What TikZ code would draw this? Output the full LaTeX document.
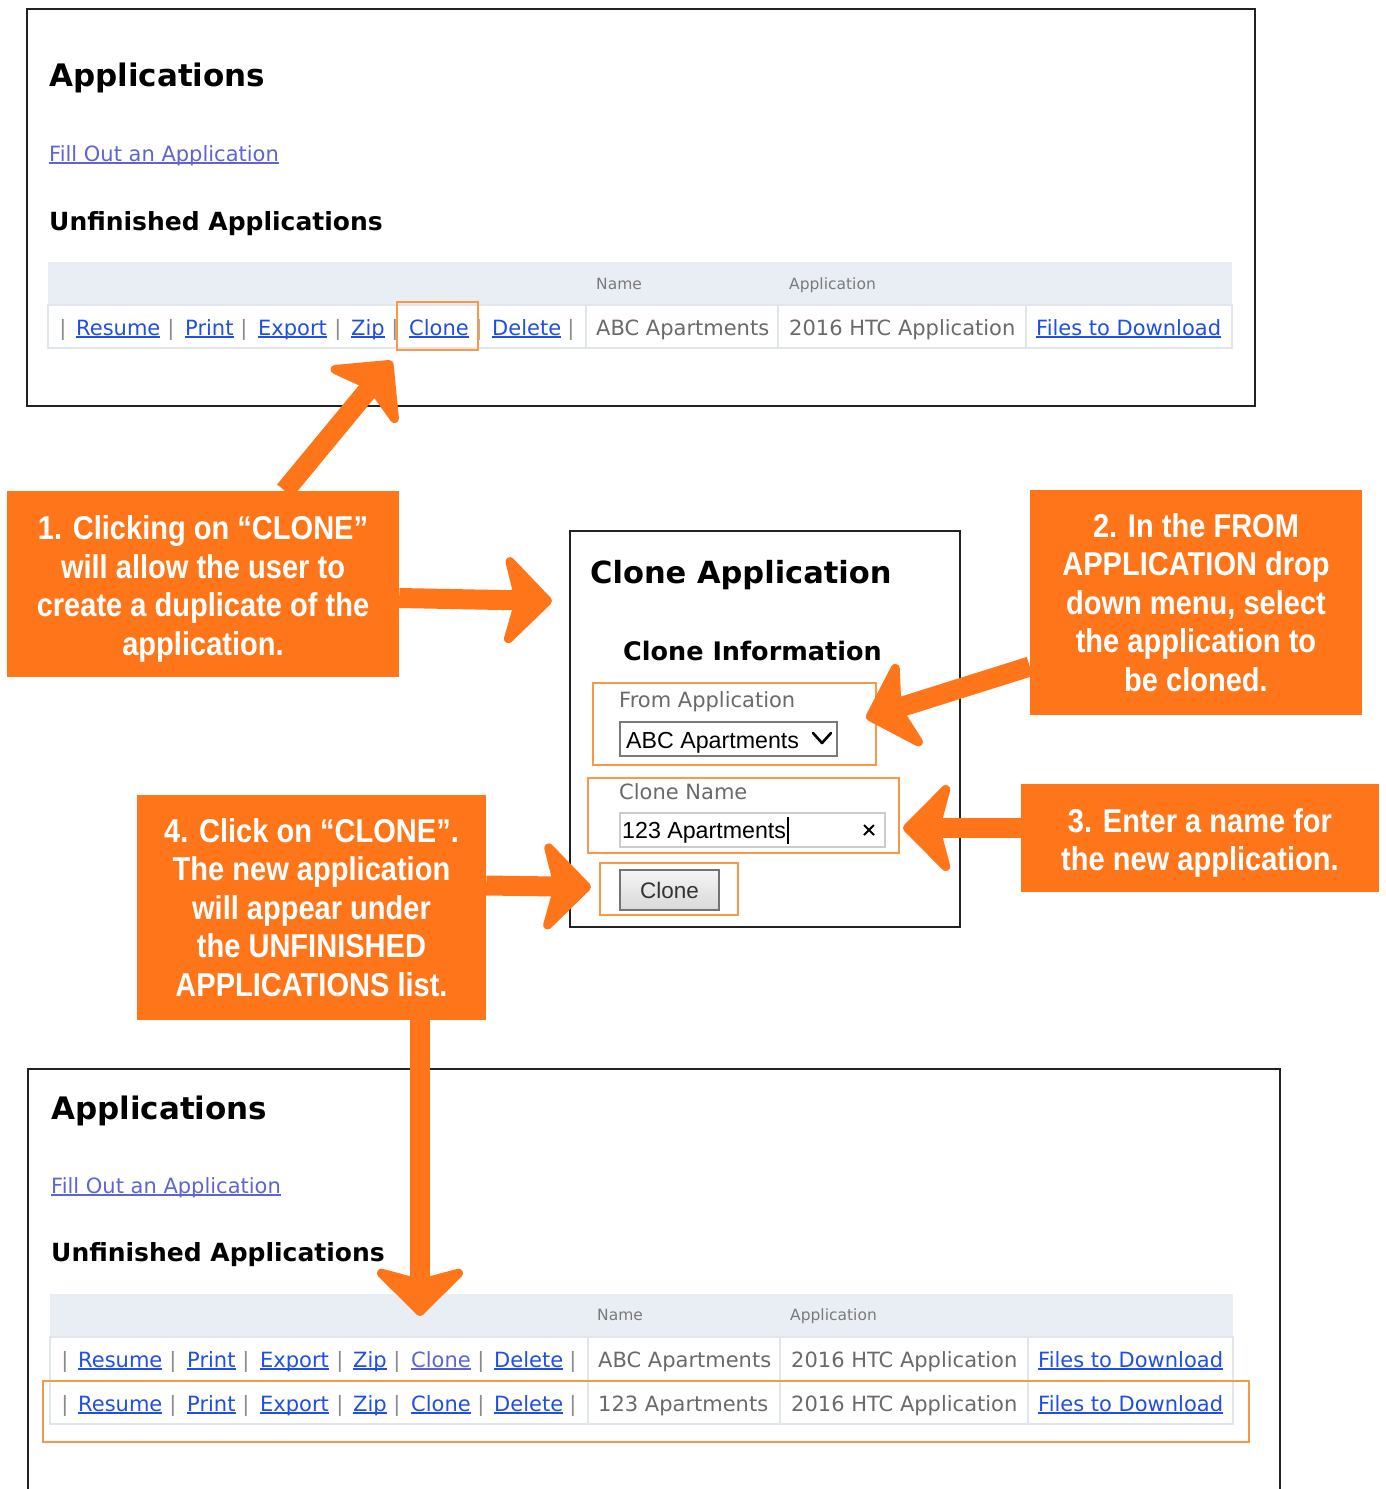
\documentclass[tikz,border=0pt]{standalone}
\usepackage{fontspec}
\usetikzlibrary{arrows.meta,calc}
\newfontfamily\uifont{DejaVu Sans}
\newfontfamily\arialfont{Liberation Sans}
\newfontfamily\callfont[FakeStretch=0.88]{Liberation Sans}

\definecolor{callorange}{HTML}{FF761A}
\definecolor{hilite}{HTML}{F8994A}
\definecolor{linkblue}{HTML}{1F4FE6}
\definecolor{visited}{HTML}{5F64D4}
\definecolor{txtgray}{HTML}{6A6A6A}
\definecolor{pipegray}{HTML}{8A8A8A}
\definecolor{hdrgray}{HTML}{7A7A7A}
\definecolor{hdrfill}{HTML}{E9EEF5}
\definecolor{rowline}{HTML}{E1E6ED}
\definecolor{frame}{HTML}{222222}

% underlined link text, rule just under the baseline
\newcommand\lnk[1]{\setbox0\hbox{#1}\leavevmode\rlap{\rule[-2.6pt]{\wd0}{1.3pt}}\box0}
% taller first line, lowers a callout's text block a little
\newcommand\lowstrut{\rule{0pt}{34pt}}

\tikzset{
  txt/.style={anchor=base west, inner sep=0pt, font=\uifont\fontsize{21}{24}\selectfont},
  val/.style={txt, text=txtgray},
  link/.style={txt, text=linkblue},
  vlink/.style={txt, text=visited},
  pipe/.style={anchor=base, inner sep=0pt, font=\uifont\fontsize{21}{24}\selectfont, text=pipegray},
  colhead/.style={anchor=base west, inner sep=0pt, font=\uifont\fontsize{15.5}{18}\selectfont, text=hdrgray},
  bighead/.style={anchor=base west, inner sep=0pt, font=\uifont\bfseries\fontsize{31}{36}\selectfont},
  subhead/.style={anchor=base west, inner sep=0pt, font=\uifont\bfseries\fontsize{25}{30}\selectfont},
  panel/.style={draw=frame, line width=2.5pt},
  hibox/.style={draw=hilite, line width=2pt},
  callout/.style={fill=callorange, inner sep=0pt, text=white, align=center,
    font=\callfont\bfseries\fontsize{33}{38.5}\selectfont},
  bigarrow/.style={draw=callorange, line width=20pt,
    -{Stealth[length=53pt, width=106pt, inset=14pt, round, line width=9pt]}},
}

% one row of action links: #1 x shift, #2 baseline, #3 colour style of Clone, #4 name prefix
\newcommand\actionrow[4]{%
  \foreach \px [count=\i] in {63,171,244,338,395,479,571}
    \node[pipe] (#4p\i) at (\px+#1,#2) {|};
  \node[link] (#4res) at (76+#1,#2) {\lnk{Resume}};
  \node[link] (#4pri) at (185+#1,#2) {\lnk{Print}};
  \node[link] (#4exp) at (258+#1,#2) {\lnk{Export}};
  \node[link] (#4zip) at (351+#1,#2) {\lnk{Zip}};
  \node[#3]   (#4clo) at (409+#1,#2) {\lnk{Clone}};
  \node[link] (#4del) at (492+#1,#2) {\lnk{Delete}};
}

\begin{document}
\begin{tikzpicture}[x=1pt,y=-1pt]
\useasboundingbox (0,0) rectangle (1385,1489);
\fill[white] (0,0) rectangle (1385,1489);
\clip (0,0) rectangle (1385,1489);

%% ---------- upper applications panel ----------
\draw[panel] (27,9) rectangle (1255,406);
\node[bighead] (apptitle1) at (49,86) {Applications};
\node[vlink] (fill1) at (49,161) {\lnk{Fill Out an Application}};
\node[subhead] (unf1) at (49,230) {Unfinished Applications};
\fill[hdrfill] (48,262) rectangle (1232,305);
\draw[rowline, line width=1.5pt] (48,305) rectangle (1232,348);
\foreach \cx in {586,778,1026} \draw[rowline, line width=1.5pt] (\cx,305) -- (\cx,348);
\node[colhead] (hname1) at (596,289) {Name};
\node[colhead] (happ1) at (789,289) {Application};
\actionrow{0}{335}{link}{ta}
\node[val] (tname1) at (596,335) {ABC Apartments};
\node[val] (tapp1) at (789,335) {2016 HTC Application};
\node[link] (tfiles1) at (1036,335) {\lnk{Files to Download}};
\draw[hibox] (397,302) rectangle (478,350);

%% ---------- clone dialog ----------
\draw[panel] (570,531) rectangle (960,927);
\node[anchor=base west, inner sep=0pt, font=\uifont\bfseries\fontsize{30.5}{34}\selectfont] (cltitle) at (590,583) {Clone Application};
\node[subhead, font=\uifont\bfseries\fontsize{25.5}{30}\selectfont] (clinfo) at (623,660) {Clone Information};
\draw[hibox] (593,683) rectangle (876,765);
\node[val] (fromlbl) at (619,707) {From Application};
\draw[draw=hdrgray, line width=1.5pt] (620,722) rectangle (837,756);
\node[anchor=base west, inner sep=0pt, font=\arialfont\fontsize{23.2}{26}\selectfont] (fromsel) at (626,748) {ABC Apartments};
\draw[line width=2.6pt, line cap=round, line join=round] (813,733) -- (822,743) -- (831,733);
\draw[hibox] (588,778) rectangle (899,853);
\node[val] (namelbl) at (619,799) {Clone Name};
\draw[draw=black!20, line width=1.5pt] (620,813) rectangle (885,847);
\node[anchor=base west, inner sep=0pt, font=\arialfont\fontsize{23.2}{26}\selectfont] (nameinput) at (622,838) {123 Apartments};
\draw[line width=1.3pt] (788,817) -- (788,844);
\draw[line width=1.8pt] (864,825) -- (874,835) (864,835) -- (874,825);
\draw[hibox] (600,863) rectangle (738,915);
\shade[top color=white!96!black, bottom color=white!85!black] (620,870) rectangle (719,910);
\draw[draw=black!55, line width=1.5pt] (620,870) rectangle (719,910);
\node[anchor=base, inner sep=0pt, font=\arialfont\fontsize{22.5}{26}\selectfont, text=black!80] (clonebtn) at (669.5,898) {Clone};

%% ---------- lower applications panel ----------
\draw[panel] (28,1500) -- (28,1069) -- (1280,1069) -- (1280,1500);
\node[bighead] (apptitle2) at (51,1119) {Applications};
\node[vlink] (fill2) at (51,1193) {\lnk{Fill Out an Application}};
\node[subhead] (unf2) at (51,1261) {Unfinished Applications};
\fill[hdrfill] (50,1294) rectangle (1233,1337);
\draw[rowline, line width=1.5pt] (50,1337) rectangle (1233,1424) (50,1381) -- (1233,1381);
\foreach \cx in {588,780,1028} \draw[rowline, line width=1.5pt] (\cx,1337) -- (\cx,1424);
\node[colhead] (hname2) at (597,1320) {Name};
\node[colhead] (happ2) at (790,1320) {Application};
\actionrow{2}{1367}{vlink}{tb}
\node[val] (tname2) at (598,1367) {ABC Apartments};
\node[val] (tapp2) at (791,1367) {2016 HTC Application};
\node[link] (tfiles2) at (1038,1367) {\lnk{Files to Download}};
\actionrow{2}{1411}{link}{tc}
\node[val] (tname3) at (598,1411) {123 Apartments};
\node[val] (tapp3) at (791,1411) {2016 HTC Application};
\node[link] (tfiles3) at (1038,1411) {\lnk{Files to Download}};
\draw[hibox] (43,1381) rectangle (1249,1442);

%% ---------- callouts ----------
\node[callout, minimum width=392pt, minimum height=186pt] (c1) at (203,584)
  {\lowstrut1. Clicking on “CLONE”\\will allow the user to\\create a duplicate of the\\application.};
\node[callout, minimum width=332pt, minimum height=225pt] (c2) at (1196,602.5)
  {2. In the FROM\\APPLICATION drop\\down menu, select\\the application to\\be cloned.};
\node[callout, minimum width=358pt, minimum height=108pt] (c3) at (1200,838)
  {\lowstrut3. Enter a name for\\the new application.};
\node[callout, minimum width=349pt, minimum height=225pt] (c4) at (311.5,907.5)
  {4. Click on “CLONE”.\\The new application\\will appear under\\the UNFINISHED\\APPLICATIONS list.};

%% ---------- arrow targets ----------
\coordinate (toclone) at (392,361);
\coordinate (todialog) at (552,601);
\coordinate (tofrom) at (866,718);
\coordinate (toname) at (903,828);
\coordinate (tobutton) at (591,887);
\coordinate (tolist) at (420,1316);

%% ---------- arrows ----------
\draw[bigarrow] ($(c1.north west)+(278,0)$) -- (toclone);
\draw[bigarrow] ($(c1.east)+(0,14)$) -- (todialog);
\draw[bigarrow] ($(c2.west)+(0,64)$) -- (tofrom);
\draw[bigarrow] ($(c3.west)+(0,-10)$) -- (toname);
\draw[bigarrow] ($(c4.east)+(0,-22)$) -- (tobutton);
\draw[bigarrow] ($(c4.south)+(108.5,0)$) -- (tolist);
\end{tikzpicture}
\end{document}
